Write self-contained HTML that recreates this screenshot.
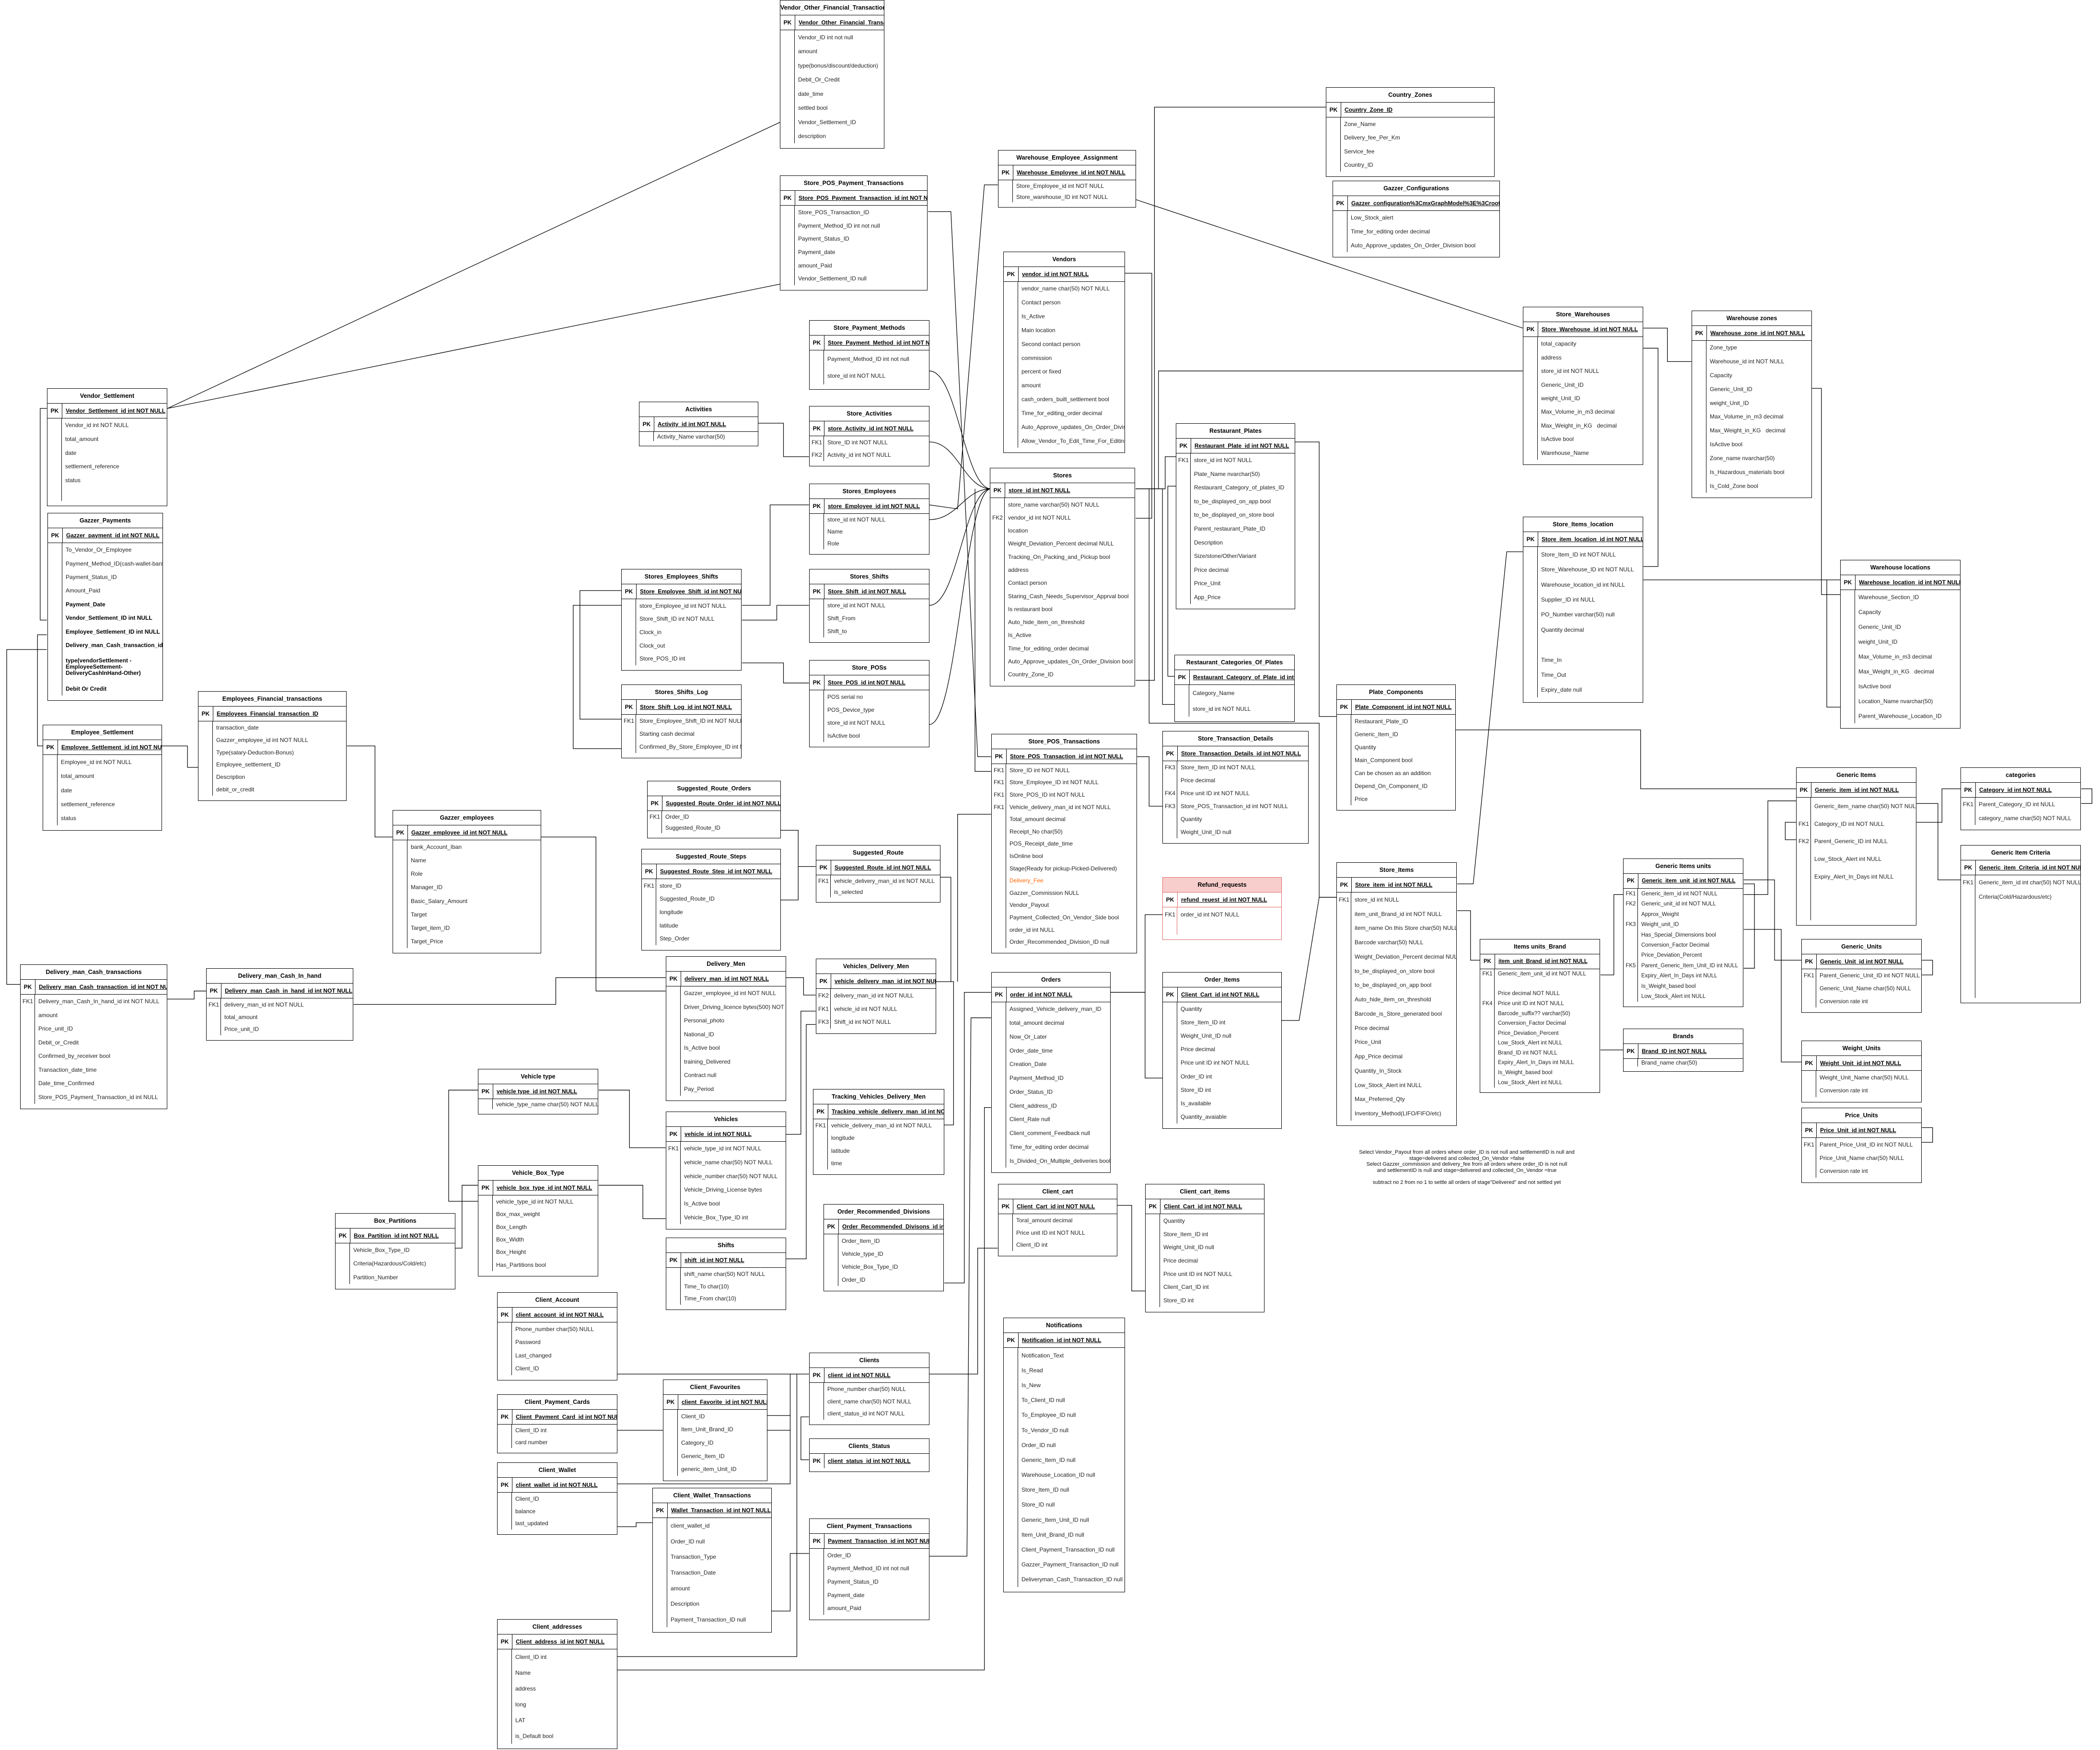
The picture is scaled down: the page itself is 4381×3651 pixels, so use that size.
<!DOCTYPE html>
<html><head><meta charset="utf-8"><style>
body{margin:0;width:4381px;height:3651px;background:#fff;position:relative;overflow:hidden;font-family:"Liberation Sans",sans-serif}
.t{position:absolute;border:1.5px solid #000;background:#fff;box-sizing:border-box;font-size:12px;display:flex;flex-direction:column;color:#222}
.h{height:30px;line-height:30px;text-align:center;font-weight:bold;border-bottom:1.5px solid #000;flex:none;white-space:nowrap;overflow:hidden;font-size:12.5px;color:#000}
.p{height:30px;line-height:30px;border-bottom:1.5px solid #000;flex:none;display:flex;white-space:nowrap;overflow:hidden;color:#000}
.p b{width:30px;text-align:center;border-right:1.5px solid #000;flex:none}
.p u{font-weight:bold;padding-left:7px}
.b{flex:1;display:flex;flex-direction:column;padding-bottom:10px;background:linear-gradient(#000,#000) 29px 0/1.2px calc(100% - 10px) no-repeat}
.r{flex:1;display:flex;align-items:center;white-space:nowrap;overflow:hidden;padding-left:37px;position:relative}
.r i{position:absolute;left:0;width:30px;text-align:center;font-style:normal}
.bo{font-weight:bold;color:#000}
.note{position:absolute;left:2790px;top:2398px;width:540px;text-align:center;font-size:11px;line-height:12.5px;color:#111}
svg{position:absolute;left:0;top:0}
</style></head><body>
<svg width="4381" height="3651"><g transform="scale(2.794)" fill="none" stroke="#000" stroke-width="0.45">
<path d="M125,305 L583,91"/><path d="M125,305 L583,212"/>
<path d="M35,305 L30,305 L30,463 L35,463"/>
<path d="M32,557 L28,557 L28,474 L35,474"/>
<path d="M15,735 L5,735 L5,485 L35,485"/>
<path d="M121,557 L140,557 L140,573 L148,573"/>
<path d="M259,557 L280,557 L280,625 L293,625"/>
<path d="M404,625 L445,625 L445,740 L497,740"/>
<path d="M264,750 L415,750 L415,730 L497,730"/>
<path d="M125,746 L145,746 L145,740 L154,740"/>
<path d="M447,814 L470,814 L470,857 L497,857"/>
<path d="M357,814 L335,814 L335,897 L357,897"/>
<path d="M447,885 L480,885 L480,910 L497,910"/>
<path d="M340,932 L345,932 L345,885 L357,885"/>
<path d="M587,847 L598,847 L598,755 L609,755"/>
<path d="M587,730 L600,730 L600,743 L609,743"/>
<path d="M587,940 L602,940 L602,765 L609,765"/>
<path d="M699,733 L712,733 L712,840 L705,840"/>
<path d="M583,620 L596,620 L596,647 L609,647"/><path d="M583,672 L596,672 L596,647"/>
<path d="M702,655 L710,655 L710,733"/>
<path d="M566,316 L585,316 L585,341 L604,341"/>
<path d="M554,452 L575,452 L575,377 L604,377"/>
<path d="M554,463 L580,463 L580,452 L604,452"/>
<path d="M464,537 L433,537 L433,441 L464,441"/>
<path d="M464,559 L428,559 L428,452 L464,452"/>
<path d="M554,495 L585,495 L585,510 L604,510"/>
<path d="M694,277 C715,277 720,365 740,365"/><path d="M694,330 C715,330 720,365 740,365"/>
<path d="M694,388 C715,388 720,365 740,365"/><path d="M694,452 C715,452 720,365 740,365"/>
<path d="M694,541 C715,541 720,365 740,365"/><path d="M740,576 L728,576 L728,365"/>
<path d="M693,158 L710,158 L730,565 L740,565"/>
<path d="M745,138 L735,138 L715,380 L694,377"/>
<path d="M840,204 L860,204 L860,387 L848,387"/>
<path d="M848,149 L1137,245"/>
<path d="M990,80 L862,80 L862,508 L848,508"/>
<path d="M848,365 L870,365 L870,341 L878,341"/>
<path d="M848,365 L865,365 L865,277 L1137,277"/>
<path d="M848,365 L868,365 L868,526 L877,526"/>
<path d="M878,363 L872,363 L872,505 L877,505"/>
<path d="M1227,245 L1245,245 L1245,270 L1263,270"/>
<path d="M1227,423 L1238,423 L1238,260 L1227,260"/>
<path d="M1227,433 L1374,433"/>
<path d="M1353,290 L1360,290 L1360,444 L1374,444"/>
<path d="M1374,528 L1364,528 L1364,433"/>
<path d="M1088,660 L1100,660 L1125,412 L1137,412"/>
<path d="M848,365 L858,365 L858,540 L985,540 L985,670 L998,670"/>
<path d="M1087,545 L1225,545 L1225,589 L1341,589"/>
<path d="M967,330 L985,330 L985,535 L998,535"/>
<path d="M1088,680 L1098,680 L1098,717 L1105,717"/>
<path d="M1195,728 L1205,728 L1205,668 L1212,668"/>
<path d="M1195,784 L1212,784"/>
<path d="M1302,668 L1320,668 L1320,598 L1341,598"/>
<path d="M1302,657 L1325,657 L1325,717 L1345,717"/>
<path d="M1302,694 L1330,694 L1330,793 L1345,793"/>
<path d="M1302,723 L1310,723 L1310,660 L1302,660"/>
<path d="M1341,614 L1333,614 L1333,627 L1341,627"/>
<path d="M1431,614 L1450,614 L1450,589 L1464,589"/>
<path d="M1554,589 L1562,589 L1562,600 L1554,600"/>
<path d="M1431,600 L1447,600 L1447,657 L1464,657"/>
<path d="M1435,717 L1443,717 L1443,728 L1435,728"/>
<path d="M1435,842 L1443,842 L1443,853 L1435,853"/>
<path d="M849,565 L858,565 L858,602 L868,602"/>
<path d="M740,608 L715,608 L715,733"/>
<path d="M829,741 L855,741 L855,683 L868,683"/>
<path d="M705,958 L720,958 L720,741 L740,741"/>
<path d="M829,741 L855,741 L855,805 L868,805"/>
<path d="M957,762 L970,762 L985,670 L998,670"/>
<path d="M834,900 L845,900 L845,964 L855,964"/>
<path d="M694,1026 L730,1026 L730,932 L745,932"/>
<path d="M461,1026 L604,1026"/>
<path d="M461,1068 L590,1068 L590,1026"/>
<path d="M461,1108 L590,1108 L590,1068"/>
<path d="M461,1237 L595,1237 L595,1026"/>
<path d="M573,1057 L590,1057"/>
<path d="M604,1090 L598,1090 L598,1058 L604,1058"/>
<path d="M694,1162 L722,1162 L725,760 L740,760"/>
<path d="M576,1203 L590,1203 L590,1160 L604,1160"/>
<path d="M461,1140 L475,1140 L475,1137 L487,1137"/>
<path d="M461,1247 L735,1247 L735,827 L740,827"/>
</g></svg>

<div class="t" style="left:1627px;top:0;width:218px;height:310px"><div class="h">Vendor_Other_Financial_Transactions</div><div class="p"><b>PK</b><u>Vendor_Other_Financial_Transaction</u></div><div class="b"><div class="r">Vendor_ID int not null</div><div class="r">amount</div><div class="r">type(bonus/discount/deduction)</div><div class="r">Debit_Or_Credit</div><div class="r">date_time</div><div class="r">settled bool</div><div class="r">Vendor_Settlement_ID</div><div class="r">description</div></div></div>

<div class="t" style="left:1627px;top:366px;width:308px;height:240px"><div class="h">Store_POS_Payment_Transactions</div><div class="p"><b>PK</b><u>Store_POS_Payment_Transaction_id int NOT NULL</u></div><div class="b"><div class="r">Store_POS_Transaction_ID</div><div class="r">Payment_Method_ID int not null</div><div class="r">Payment_Status_ID</div><div class="r">Payment_date</div><div class="r">amount_Paid</div><div class="r">Vendor_Settlement_ID null</div></div></div>

<div class="t" style="left:2082px;top:313px;width:288px;height:120px"><div class="h">Warehouse_Employee_Assignment</div><div class="p"><b>PK</b><u>Warehouse_Employee_id int NOT NULL</u></div><div class="b"><div class="r">Store_Employee_id int NOT NULL</div><div class="r">Store_warehouse_ID int NOT NULL</div></div></div>

<div class="t" style="left:2766px;top:182px;width:352px;height:187px"><div class="h">Country_Zones</div><div class="p"><b>PK</b><u>Country_Zone_ID</u></div><div class="b"><div class="r">Zone_Name</div><div class="r">Delivery_fee_Per_Km</div><div class="r">Service_fee</div><div class="r">Country_ID</div></div></div>

<div class="t" style="left:2780px;top:377px;width:349px;height:160px"><div class="h">Gazzer_Configurations</div><div class="p"><b>PK</b><u>Gazzer_configuration%3CmxGraphModel%3E%3Croot</u></div><div class="b"><div class="r">Low_Stock_alert</div><div class="r">Time_for_editing order decimal</div><div class="r">Auto_Approve_updates_On_Order_Division bool</div></div></div>

<div class="t" style="left:2093px;top:525px;width:254px;height:420px"><div class="h">Vendors</div><div class="p"><b>PK</b><u>vendor_id int NOT NULL</u></div><div class="b"><div class="r">vendor_name char(50) NOT NULL</div><div class="r">Contact person</div><div class="r">Is_Active</div><div class="r">Main location</div><div class="r">Second contact person</div><div class="r">commission</div><div class="r">percent or fixed</div><div class="r">amount</div><div class="r">cash_orders_built_settlement bool</div><div class="r">Time_for_editing_order decimal</div><div class="r">Auto_Approve_updates_On_Order_Division</div><div class="r">Allow_Vendor_To_Edit_Time_For_Editing</div></div></div>

<div class="t" style="left:1688px;top:668px;width:251px;height:145px"><div class="h">Store_Payment_Methods</div><div class="p"><b>PK</b><u>Store_Payment_Method_id int NOT NULL</u></div><div class="b"><div class="r">Payment_Method_ID int not null</div><div class="r">store_id int NOT NULL</div></div></div>

<div class="t" style="left:1333px;top:838px;width:249px;height:93px"><div class="h">Activities</div><div class="p"><b>PK</b><u>Activity_id int NOT NULL</u></div><div class="b"><div class="r">Activity_Name varchar(50)</div></div></div>

<div class="t" style="left:1688px;top:847px;width:251px;height:126px"><div class="h">Store_Activities</div><div class="p"><b>PK</b><u>store_Activity_id int NOT NULL</u></div><div class="b"><div class="r"><i>FK1</i>Store_ID int NOT NULL</div><div class="r"><i>FK2</i>Activity_id int NOT NULL</div></div></div>

<div class="t" style="left:2065px;top:976px;width:303px;height:456px"><div class="h">Stores</div><div class="p"><b>PK</b><u>store_id int NOT NULL</u></div><div class="b"><div class="r">store_name varchar(50) NOT NULL</div><div class="r"><i>FK2</i>vendor_id int NOT NULL</div><div class="r">location</div><div class="r">Weight_Deviation_Percent decimal NULL</div><div class="r">Tracking_On_Packing_and_Pickup bool</div><div class="r">address</div><div class="r">Contact person</div><div class="r">Staring_Cash_Needs_Supervisor_Apprval bool</div><div class="r">Is restaurant bool</div><div class="r">Auto_hide_item_on_threshold</div><div class="r">Is_Active</div><div class="r">Time_for_editing_order decimal</div><div class="r">Auto_Approve_updates_On_Order_Division bool</div><div class="r">Country_Zone_ID</div></div></div>

<div class="t" style="left:1688px;top:1009px;width:251px;height:148px"><div class="h">Stores_Employees</div><div class="p"><b>PK</b><u>store_Employee_id int NOT NULL</u></div><div class="b"><div class="r">store_id int NOT NULL</div><div class="r">Name</div><div class="r">Role</div></div></div>

<div class="t" style="left:2453px;top:883px;width:249px;height:388px"><div class="h">Restaurant_Plates</div><div class="p"><b>PK</b><u>Restaurant_Plate_id int NOT NULL</u></div><div class="b"><div class="r"><i>FK1</i>store_id int NOT NULL</div><div class="r">Plate_Name nvarchar(50)</div><div class="r">Restaurant_Category_of_plates_ID</div><div class="r">to_be_displayed_on_app bool</div><div class="r">to_be_displayed_on_store bool</div><div class="r">Parent_restaurant_Plate_ID</div><div class="r">Description</div><div class="r">Size/stone/Other/Variant</div><div class="r">Price decimal</div><div class="r">Price_Unit</div><div class="r">App_Price</div></div></div>

<div class="t" style="left:3177px;top:640px;width:251px;height:330px"><div class="h">Store_Warehouses</div><div class="p"><b>PK</b><u>Store_Warehouse_id int NOT NULL</u></div><div class="b"><div class="r">total_capacity</div><div class="r">address</div><div class="r">store_id int NOT NULL</div><div class="r">Generic_Unit_ID</div><div class="r">weight_Unit_ID</div><div class="r">Max_Volume_in_m3 decimal</div><div class="r">Max_Weight_in_KG &nbsp; decimal</div><div class="r">IsActive bool</div><div class="r">Warehouse_Name</div></div></div>

<div class="t" style="left:3529px;top:648px;width:251px;height:391px"><div class="h">Warehouse zones</div><div class="p"><b>PK</b><u>Warehouse_zone_id int NOT NULL</u></div><div class="b"><div class="r">Zone_type</div><div class="r">Warehouse_id int NOT NULL</div><div class="r">Capacity</div><div class="r">Generic_Unit_ID</div><div class="r">weight_Unit_ID</div><div class="r">Max_Volume_in_m3 decimal</div><div class="r">Max_Weight_in_KG &nbsp; decimal</div><div class="r">IsActive bool</div><div class="r">Zone_name nvarchar(50)</div><div class="r">Is_Hazardous_materials bool</div><div class="r">Is_Cold_Zone bool</div></div></div>

<div class="t" style="left:98px;top:810px;width:251px;height:246px"><div class="h">Vendor_Settlement</div><div class="p"><b>PK</b><u>Vendor_Settlement_id int NOT NULL</u></div><div class="b"><div class="r">Vendor_id int NOT NULL</div><div class="r">total_amount</div><div class="r">date</div><div class="r">settlement_reference</div><div class="r">status</div><div class="r"></div></div></div>

<div class="t" style="left:99px;top:1070px;width:241px;height:392px"><div class="h">Gazzer_Payments</div><div class="p"><b>PK</b><u>Gazzer_payment_id int NOT NULL</u></div><div class="b"><div class="r">To_Vendor_Or_Employee</div><div class="r">Payment_Method_ID(cash-wallet-bank)</div><div class="r">Payment_Status_ID</div><div class="r">Amount_Paid</div><div class="r bo">Payment_Date</div><div class="r bo">Vendor_Settlement_ID int NULL</div><div class="r bo">Employee_Settlement_ID int NULL</div><div class="r bo">Delivery_man_Cash_transaction_id</div><div class="r bo" style="flex:2.2;white-space:normal;line-height:13px">type(vendorSettlement - EmployeeSettement- DeliveryCashInHand-Other)</div><div class="r bo">Debit Or Credit</div></div></div>

<div class="t" style="left:89px;top:1512px;width:249px;height:221px"><div class="h">Employee_Settlement</div><div class="p"><b>PK</b><u>Employee_Settlement_id int NOT NULL</u></div><div class="b"><div class="r">Employee_id int NOT NULL</div><div class="r">total_amount</div><div class="r">date</div><div class="r">settlement_reference</div><div class="r">status</div></div></div>

<div class="t" style="left:413px;top:1442px;width:310px;height:229px"><div class="h">Employees_Financial_transactions</div><div class="p"><b>PK</b><u>Employees_Financial_transaction_ID</u></div><div class="b"><div class="r">transaction_date</div><div class="r">Gazzer_employee_id int NOT NULL</div><div class="r">Type(salary-Deduction-Bonus)</div><div class="r">Employee_settlement_ID</div><div class="r">Description</div><div class="r">debit_or_credit</div></div></div>

<div class="t" style="left:1296px;top:1187px;width:251px;height:212px"><div class="h">Stores_Employees_Shifts</div><div class="p"><b>PK</b><u>Store_Employee_Shift_id int NOT NULL</u></div><div class="b"><div class="r">store_Employee_id int NOT NULL</div><div class="r">Store_Shift_ID int NOT NULL</div><div class="r">Clock_in</div><div class="r">Clock_out</div><div class="r">Store_POS_ID int</div></div></div>

<div class="t" style="left:1688px;top:1187px;width:251px;height:154px"><div class="h">Stores_Shifts</div><div class="p"><b>PK</b><u>Store_Shift_id int NOT NULL</u></div><div class="b"><div class="r">store_id int NOT NULL</div><div class="r">Shift_From</div><div class="r">Shift_to</div></div></div>

<div class="t" style="left:1688px;top:1377px;width:251px;height:182px"><div class="h">Store_POSs</div><div class="p"><b>PK</b><u>Store_POS_id int NOT NULL</u></div><div class="b"><div class="r">POS serial no</div><div class="r">POS_Device_type</div><div class="r">store_id int NOT NULL</div><div class="r">IsActive bool</div></div></div>

<div class="t" style="left:1296px;top:1428px;width:251px;height:154px"><div class="h">Stores_Shifts_Log</div><div class="p"><b>PK</b><u>Store_Shift_Log_id int NOT NULL</u></div><div class="b"><div class="r"><i>FK1</i>Store_Employee_Shift_ID int NOT NULL</div><div class="r">Starting cash decimal</div><div class="r">Confirmed_By_Store_Employee_ID int NOT</div></div></div>

<div class="t" style="left:2450px;top:1366px;width:251px;height:140px"><div class="h">Restaurant_Categories_Of_Plates</div><div class="p"><b>PK</b><u>Restaurant_Category_of_Plate_id int NOT NULL</u></div><div class="b"><div class="r">Category_Name</div><div class="r">store_id int NOT NULL</div></div></div>

<div class="t" style="left:3177px;top:1078px;width:251px;height:388px"><div class="h">Store_Items_location</div><div class="p"><b>PK</b><u>Store_item_location_id int NOT NULL</u></div><div class="b"><div class="r">Store_Item_ID int NOT NULL</div><div class="r">Store_Warehouse_ID int NOT NULL</div><div class="r">Warehouse_location_id int NULL</div><div class="r">Supplier_ID int NULL</div><div class="r">PO_Number varchar(50) null</div><div class="r">Quantity decimal</div><div class="r"></div><div class="r">Time_In</div><div class="r">Time_Out</div><div class="r">Expiry_date null</div></div></div>

<div class="t" style="left:3839px;top:1168px;width:251px;height:352px"><div class="h">Warehouse locations</div><div class="p"><b>PK</b><u>Warehouse_location_id int NOT NULL</u></div><div class="b"><div class="r">Warehouse_Section_ID</div><div class="r">Capacity</div><div class="r">Generic_Unit_ID</div><div class="r">weight_Unit_ID</div><div class="r">Max_Volume_in_m3 decimal</div><div class="r">Max_Weight_in_KG &nbsp; decimal</div><div class="r">IsActive bool</div><div class="r">Location_Name nvarchar(50)</div><div class="r">Parent_Warehouse_Location_ID</div></div></div>

<div class="t" style="left:2788px;top:1428px;width:249px;height:263px"><div class="h">Plate_Components</div><div class="p"><b>PK</b><u>Plate_Component_id int NOT NULL</u></div><div class="b"><div class="r">Restaurant_Plate_ID</div><div class="r">Generic_Item_ID</div><div class="r">Quantity</div><div class="r">Main_Component bool</div><div class="r">Can be chosen as an addition</div><div class="r">Depend_On_Component_ID</div><div class="r">Price</div></div></div>

<div class="t" style="left:2068px;top:1531px;width:304px;height:458px"><div class="h">Store_POS_Transactions</div><div class="p"><b>PK</b><u>Store_POS_Transaction_id int NOT NULL</u></div><div class="b"><div class="r"><i>FK1</i>Store_ID int NOT NULL</div><div class="r"><i>FK1</i>Store_Employee_ID int NOT NULL</div><div class="r"><i>FK1</i>Store_POS_ID int NOT NULL</div><div class="r"><i>FK1</i>Vehicle_delivery_man_id int NOT NULL</div><div class="r">Total_amount decimal</div><div class="r">Receipt_No char(50)</div><div class="r">POS_Receipt_date_time</div><div class="r">IsOnline bool</div><div class="r">Stage(Ready for pickup-Picked-Delivered)</div><div class="r" style="color:#f60">Delivery_Fee</div><div class="r">Gazzer_Commission NULL</div><div class="r">Vendor_Payout</div><div class="r">Payment_Collected_On_Vendor_Side bool</div><div class="r">order_id int NULL</div><div class="r">Order_Recommended_Division_ID null</div></div></div>

<div class="t" style="left:2425px;top:1525px;width:305px;height:235px"><div class="h">Store_Transaction_Details</div><div class="p"><b>PK</b><u>Store_Transaction_Details_id int NOT NULL</u></div><div class="b"><div class="r"><i>FK3</i>Store_Item_ID int NOT NULL</div><div class="r">Price decimal</div><div class="r"><i>FK4</i>Price unit ID int NOT NULL</div><div class="r"><i>FK3</i>Store_POS_Transaction_id int NOT NULL</div><div class="r">Quantity</div><div class="r">Weight_Unit_ID null</div></div></div>

<div class="t" style="left:3747px;top:1601px;width:251px;height:330px"><div class="h">Generic Items</div><div class="p"><b>PK</b><u>Generic_item_id int NOT NULL</u></div><div class="b"><div class="r">Generic_item_name char(50) NOT NULL</div><div class="r"><i>FK1</i>Category_ID int NOT NULL</div><div class="r"><i>FK2</i>Parent_Generic_ID int NULL</div><div class="r">Low_Stock_Alert int NULL</div><div class="r">Expiry_Alert_In_Days int NULL</div><div class="r"></div><div class="r"></div></div></div>

<div class="t" style="left:4090px;top:1601px;width:251px;height:131px"><div class="h">categories</div><div class="p"><b>PK</b><u>Category_id int NOT NULL</u></div><div class="b"><div class="r"><i>FK1</i>Parent_Category_ID int NULL</div><div class="r">category_name char(50) NOT NULL</div></div></div>

<div class="t" style="left:4090px;top:1763px;width:251px;height:330px"><div class="h">Generic Item Criteria</div><div class="p"><b>PK</b><u>Generic_item_Criteria_id int NOT NULL</u></div><div class="b" style="justify-content:flex-start"><div class="r" style="flex:none;height:30px"><i>FK1</i>Generic_item_id int char(50) NOT NULL</div><div class="r" style="flex:none;height:30px">Criteria(Cold/Hazardous/etc)</div></div></div>

<div class="t" style="left:2425px;top:1830px;width:249px;height:131px;border-color:#e06666"><div class="h" style="background:#f8cecc;border-color:#e06666">Refund_requests</div><div class="p" style="border-color:#e06666"><b style="border-color:#e06666">PK</b><u>refund_reuest_id int NOT NULL</u></div><div class="b" style="justify-content:flex-start;background:linear-gradient(#e06666,#e06666) 29px 0/1.2px calc(100% - 10px) no-repeat"><div class="r" style="flex:none;height:30px"><i>FK1</i>order_id int NOT NULL</div></div></div>

<div class="t" style="left:2788px;top:1799px;width:251px;height:550px"><div class="h">Store_Items</div><div class="p"><b>PK</b><u>Store_item_id int NOT NULL</u></div><div class="b"><div class="r"><i>FK1</i>store_id int NULL</div><div class="r">item_unit_Brand_id int NOT NULL</div><div class="r">item_name On this Store char(50) NULL</div><div class="r">Barcode varchar(50) NULL</div><div class="r">Weight_Deviation_Percent decimal NULL</div><div class="r">to_be_displayed_on_store bool</div><div class="r">to_be_displayed_on_app bool</div><div class="r">Auto_hide_item_on_threshold</div><div class="r">Barcode_is_Store_generated bool</div><div class="r">Price decimal</div><div class="r">Price_Unit</div><div class="r">App_Price decimal</div><div class="r">Quantity_In_Stock</div><div class="r">Low_Stock_Alert int NULL</div><div class="r">Max_Preferred_Qty</div><div class="r">Inventory_Method(LIFO/FIFO/etc)</div></div></div>

<div class="t" style="left:3386px;top:1791px;width:251px;height:310px;font-size:11.5px"><div class="h">Generic Items units</div><div class="p"><b>PK</b><u>Generic_item_unit_id int NOT NULL</u></div><div class="b"><div class="r"><i>FK1</i>Generic_item_id int NOT NULL</div><div class="r"><i>FK2</i>Generic_unit_id int NOT NULL</div><div class="r">Approx_Weight</div><div class="r"><i>FK3</i>Weight_unit_ID</div><div class="r">Has_Special_Dimensions bool</div><div class="r">Conversion_Factor Decimal</div><div class="r">Price_Deviation_Percent</div><div class="r"><i>FK5</i>Parent_Generic_Item_Unit_ID int NULL</div><div class="r">Expiry_Alert_In_Days int NULL</div><div class="r">Is_Weight_based bool</div><div class="r">Low_Stock_Alert int NULL</div></div></div>

<div class="t" style="left:3087px;top:1959px;width:251px;height:321px;font-size:11.5px"><div class="h">Items units_Brand</div><div class="p"><b>PK</b><u>item_unit_Brand_id int NOT NULL</u></div><div class="b"><div class="r"><i>FK1</i>Generic_item_unit_id int NOT NULL</div><div class="r"></div><div class="r">Price decimal NOT NULL</div><div class="r"><i>FK4</i>Price unit ID int NOT NULL</div><div class="r">Barcode_suffix?? varchar(50)</div><div class="r">Conversion_Factor Decimal</div><div class="r">Price_Deviation_Percent</div><div class="r">Low_Stock_Alert int NULL</div><div class="r">Brand_ID int NOT NULL</div><div class="r">Expiry_Alert_In_Days int NULL</div><div class="r">Is_Weight_based bool</div><div class="r">Low_Stock_Alert int NULL</div></div></div>

<div class="t" style="left:3758px;top:1959px;width:251px;height:154px"><div class="h">Generic_Units</div><div class="p"><b>PK</b><u>Generic_Unit_id int NOT NULL</u></div><div class="b"><div class="r"><i>FK1</i>Parent_Generic_Unit_ID int NOT NULL</div><div class="r">Generic_Unit_Name char(50) NULL</div><div class="r">Conversion rate int</div></div></div>

<div class="t" style="left:3386px;top:2146px;width:251px;height:90px"><div class="h">Brands</div><div class="p"><b>PK</b><u>Brand_ID int NOT NULL</u></div><div class="b"><div class="r">Brand_name char(50)</div></div></div>

<div class="t" style="left:3758px;top:2171px;width:251px;height:129px"><div class="h">Weight_Units</div><div class="p"><b>PK</b><u>Weight_Unit_id int NOT NULL</u></div><div class="b"><div class="r">Weight_Unit_Name char(50) NULL</div><div class="r">Conversion rate int</div></div></div>

<div class="t" style="left:3758px;top:2311px;width:251px;height:157px"><div class="h">Price_Units</div><div class="p"><b>PK</b><u>Price_Unit_id int NOT NULL</u></div><div class="b"><div class="r"><i>FK1</i>Parent_Price_Unit_ID int NOT NULL</div><div class="r">Price_Unit_Name char(50) NULL</div><div class="r">Conversion rate int</div></div></div>

<div class="note">Select Vendor_Payout from all orders where order_ID is not null and settlementID is null and<br>stage=delivered and collected_On_Vendor =false<br>Select Gazzer_commission and delivery_fee from all orders where order_ID is not null<br>and settlementID is null and stage=delivered and collected_On_Vendor =true<br><br>subtract no 2 from no 1 to settle all orders of stage"Delivered" and not settled yet</div>

<div class="t" style="left:2068px;top:2028px;width:249px;height:419px"><div class="h">Orders</div><div class="p"><b>PK</b><u>order_id int NOT NULL</u></div><div class="b"><div class="r">Assigned_Vehicle_delivery_man_ID</div><div class="r">total_amount decimal</div><div class="r">Now_Or_Later</div><div class="r">Order_date_time</div><div class="r">Creation_Date</div><div class="r">Payment_Method_ID</div><div class="r">Order_Status_ID</div><div class="r">Client_address_ID</div><div class="r">Client_Rate null</div><div class="r">Client_comment_Feedback null</div><div class="r">Time_for_editing order decimal</div><div class="r">Is_Divided_On_Multiple_deliveries bool</div></div></div>

<div class="t" style="left:2425px;top:2028px;width:249px;height:327px"><div class="h">Order_Items</div><div class="p"><b>PK</b><u>Client_Cart_id int NOT NULL</u></div><div class="b"><div class="r">Quantity</div><div class="r">Store_Item_ID int</div><div class="r">Weight_Unit_ID null</div><div class="r">Price decimal</div><div class="r">Price unit ID int NOT NULL</div><div class="r">Order_ID int</div><div class="r">Store_ID int</div><div class="r">Is_available</div><div class="r">Quantity_avaiable</div></div></div>

<div class="t" style="left:2082px;top:2470px;width:249px;height:151px"><div class="h">Client_cart</div><div class="p"><b>PK</b><u>Client_Cart_id int NOT NULL</u></div><div class="b"><div class="r">Toral_amount decimal</div><div class="r">Price unit ID int NOT NULL</div><div class="r">Client_ID int</div></div></div>

<div class="t" style="left:2389px;top:2470px;width:249px;height:268px"><div class="h">Client_cart_items</div><div class="p"><b>PK</b><u>Client_Cart_id int NOT NULL</u></div><div class="b"><div class="r">Quantity</div><div class="r">Store_Item_ID int</div><div class="r">Weight_Unit_ID null</div><div class="r">Price decimal</div><div class="r">Price unit ID int NOT NULL</div><div class="r">Client_Cart_ID int</div><div class="r">Store_ID int</div></div></div>

<div class="t" style="left:2093px;top:2749px;width:254px;height:573px"><div class="h">Notifications</div><div class="p"><b>PK</b><u>Notification_id int NOT NULL</u></div><div class="b"><div class="r">Notification_Text</div><div class="r">Is_Read</div><div class="r">Is_New</div><div class="r">To_Client_ID null</div><div class="r">To_Employee_ID null</div><div class="r">To_Vendor_ID null</div><div class="r">Order_ID null</div><div class="r">Generic_Item_ID null</div><div class="r">Warehouse_Location_ID null</div><div class="r">Store_Item_ID null</div><div class="r">Store_ID null</div><div class="r">Generic_Item_Unit_ID null</div><div class="r">Item_Unit_Brand_ID null</div><div class="r">Client_Payment_Transaction_ID null</div><div class="r">Gazzer_Payment_Transaction_ID null</div><div class="r">Deliveryman_Cash_Transaction_ID null</div></div></div>

<div class="t" style="left:1688px;top:2822px;width:251px;height:151px"><div class="h">Clients</div><div class="p"><b>PK</b><u>client_id int NOT NULL</u></div><div class="b"><div class="r">Phone_number char(50) NULL</div><div class="r">client_name char(50) NOT NULL</div><div class="r">client_status_id int NOT NULL</div></div></div>

<div class="t" style="left:1688px;top:3001px;width:251px;height:70px"><div class="h">Clients_Status</div><div class="p" style="border-bottom:none"><b>PK</b><u>client_status_id int NOT NULL</u></div></div>

<div class="t" style="left:1688px;top:3168px;width:251px;height:212px"><div class="h">Client_Payment_Transactions</div><div class="p"><b>PK</b><u>Payment_Transaction_id int NOT NULL</u></div><div class="b"><div class="r">Order_ID</div><div class="r">Payment_Method_ID int not null</div><div class="r">Payment_Status_ID</div><div class="r">Payment_date</div><div class="r">amount_Paid</div></div></div>

<div class="t" style="left:1383px;top:2878px;width:218px;height:212px"><div class="h">Client_Favourites</div><div class="p"><b>PK</b><u>client_Favorite_id int NOT NULL</u></div><div class="b"><div class="r">Client_ID</div><div class="r">Item_Unit_Brand_ID</div><div class="r">Category_ID</div><div class="r">Generic_Item_ID</div><div class="r">generic_item_Unit_ID</div></div></div>

<div class="t" style="left:1361px;top:3104px;width:249px;height:302px"><div class="h">Client_Wallet_Transactions</div><div class="p"><b>PK</b><u>Wallet_Transaction_id int NOT NULL</u></div><div class="b"><div class="r">client_wallet_id</div><div class="r">Order_ID null</div><div class="r">Transaction_Type</div><div class="r">Transaction_Date</div><div class="r">amount</div><div class="r">Description</div><div class="r">Payment_Transaction_ID null</div></div></div>

<div class="t" style="left:1037px;top:2696px;width:251px;height:184px"><div class="h">Client_Account</div><div class="p"><b>PK</b><u>client_account_id int NOT NULL</u></div><div class="b"><div class="r">Phone_number char(50) NULL</div><div class="r">Password</div><div class="r">Last_changed</div><div class="r">Client_ID</div></div></div>

<div class="t" style="left:1037px;top:2909px;width:251px;height:123px"><div class="h">Client_Payment_Cards</div><div class="p"><b>PK</b><u>Client_Payment_Card_id int NOT NULL</u></div><div class="b"><div class="r">Client_ID int</div><div class="r">card number</div></div></div>

<div class="t" style="left:1037px;top:3051px;width:251px;height:151px"><div class="h">Client_Wallet</div><div class="p"><b>PK</b><u>client_wallet_id int NOT NULL</u></div><div class="b"><div class="r">Client_ID</div><div class="r">balance</div><div class="r">last_updated</div></div></div>

<div class="t" style="left:1037px;top:3378px;width:251px;height:271px"><div class="h">Client_addresses</div><div class="p"><b>PK</b><u>Client_address_id int NOT NULL</u></div><div class="b"><div class="r">Client_ID int</div><div class="r">Name</div><div class="r">address</div><div class="r">long</div><div class="r">LAT</div><div class="r">is_Default bool</div></div></div>

<div class="t" style="left:819px;top:1690px;width:310px;height:299px"><div class="h">Gazzer_employees</div><div class="p"><b>PK</b><u>Gazzer_employee_id int NOT NULL</u></div><div class="b"><div class="r">bank_Account_Iban</div><div class="r">Name</div><div class="r">Role</div><div class="r">Manager_ID</div><div class="r">Basic_Salary_Amount</div><div class="r">Target</div><div class="r">Target_item_ID</div><div class="r">Target_Price</div></div></div>

<div class="t" style="left:1350px;top:1629px;width:279px;height:120px"><div class="h">Suggested_Route_Orders</div><div class="p"><b>PK</b><u>Suggested_Route_Order_id int NOT NULL</u></div><div class="b"><div class="r"><i>FK1</i>Order_ID</div><div class="r">Suggested_Route_ID</div></div></div>

<div class="t" style="left:1338px;top:1771px;width:291px;height:212px"><div class="h">Suggested_Route_Steps</div><div class="p"><b>PK</b><u>Suggested_Route_Step_id int NOT NULL</u></div><div class="b"><div class="r"><i>FK1</i>store_ID</div><div class="r">Suggested_Route_ID</div><div class="r">longitude</div><div class="r">latitude</div><div class="r">Step_Order</div></div></div>

<div class="t" style="left:1702px;top:1763px;width:260px;height:120px"><div class="h">Suggested_Route</div><div class="p"><b>PK</b><u>Suggested_Route_id int NOT NULL</u></div><div class="b"><div class="r"><i>FK1</i>vehicle_delivery_man_id int NOT NULL</div><div class="r">is_selected</div></div></div>

<div class="t" style="left:1389px;top:1995px;width:251px;height:302px"><div class="h">Delivery_Men</div><div class="p"><b>PK</b><u>delivery_man_id int NOT NULL</u></div><div class="b"><div class="r">Gazzer_employee_id int NOT NULL</div><div class="r">Driver_Driving_licence bytes(500) NOT</div><div class="r">Personal_photo</div><div class="r">National_ID</div><div class="r">Is_Active bool</div><div class="r">training_Delivered</div><div class="r">Contract null</div><div class="r">Pay_Period</div></div></div>

<div class="t" style="left:1702px;top:2000px;width:251px;height:157px"><div class="h">Vehicles_Delivery_Men</div><div class="p"><b>PK</b><u>vehicle_delivery_man_id int NOT NULL</u></div><div class="b"><div class="r"><i>FK2</i>delivery_man_id int NOT NULL</div><div class="r"><i>FK1</i>vehicle_id int NOT NULL</div><div class="r"><i>FK3</i>Shift_id int NOT NULL</div></div></div>

<div class="t" style="left:42px;top:2012px;width:307px;height:302px"><div class="h">Delivery_man_Cash_transactions</div><div class="p"><b>PK</b><u>Delivery_man_Cash_transaction_id int NOT NULL</u></div><div class="b"><div class="r"><i>FK1</i>Delivery_man_Cash_In_hand_id int NOT NULL</div><div class="r">amount</div><div class="r">Price_unit_ID</div><div class="r">Debit_or_Credit</div><div class="r">Confirmed_by_receiver bool</div><div class="r">Transaction_date_time</div><div class="r">Date_time_Confirmed</div><div class="r">Store_POS_Payment_Transaction_id int NULL</div></div></div>

<div class="t" style="left:430px;top:2020px;width:307px;height:151px"><div class="h">Delivery_man_Cash_In_hand</div><div class="p"><b>PK</b><u>Delivery_man_Cash_in_hand_id int NOT NULL</u></div><div class="b"><div class="r"><i>FK1</i>delivery_man_id int NOT NULL</div><div class="r">total_amount</div><div class="r">Price_unit_ID</div></div></div>

<div class="t" style="left:997px;top:2230px;width:251px;height:95px"><div class="h">Vehicle type</div><div class="p"><b>PK</b><u>vehicle type_id int NOT NULL</u></div><div class="b"><div class="r">vehicle_type_name char(50) NOT NULL</div></div></div>

<div class="t" style="left:1389px;top:2319px;width:251px;height:246px"><div class="h">Vehicles</div><div class="p"><b>PK</b><u>vehicle_id int NOT NULL</u></div><div class="b"><div class="r"><i>FK1</i>vehicle_type_id int NOT NULL</div><div class="r">vehicle_name char(50) NOT NULL</div><div class="r">vehicle_number char(50) NOT NULL</div><div class="r">Vehicle_Driving_License bytes</div><div class="r">Is_Active bool</div><div class="r">Vehicle_Box_Type_ID int</div></div></div>

<div class="t" style="left:1696px;top:2272px;width:274px;height:179px"><div class="h">Tracking_Vehicles_Delivery_Men</div><div class="p"><b>PK</b><u>Tracking_vehicle_delivery_man_id int NOT NULL</u></div><div class="b"><div class="r"><i>FK1</i>vehicle_delivery_man_id int NOT NULL</div><div class="r">longitude</div><div class="r">latitude</div><div class="r">time</div></div></div>

<div class="t" style="left:997px;top:2431px;width:251px;height:232px"><div class="h">Vehicle_Box_Type</div><div class="p"><b>PK</b><u>vehicle_box_type_id int NOT NULL</u></div><div class="b"><div class="r">vehicle_type_id int NOT NULL</div><div class="r">Box_max_weight</div><div class="r">Box_Length</div><div class="r">Box_Width</div><div class="r">Box_Height</div><div class="r">Has_Partitions bool</div></div></div>

<div class="t" style="left:699px;top:2531px;width:251px;height:159px"><div class="h">Box_Partitions</div><div class="p"><b>PK</b><u>Box_Partition_id int NOT NULL</u></div><div class="b"><div class="r">Vehicle_Box_Type_ID</div><div class="r">Criteria(Hazardous/Cold/etc)</div><div class="r">Partition_Number</div></div></div>

<div class="t" style="left:1718px;top:2512px;width:251px;height:182px"><div class="h">Order_Recommended_Divisions</div><div class="p"><b>PK</b><u>Order_Recommended_Divisons_id int NOT NULL</u></div><div class="b"><div class="r">Order_Item_ID</div><div class="r">Vehicle_type_ID</div><div class="r">Vehicle_Box_Type_ID</div><div class="r">Order_ID</div></div></div>

<div class="t" style="left:1389px;top:2582px;width:251px;height:151px"><div class="h">Shifts</div><div class="p"><b>PK</b><u>shift_id int NOT NULL</u></div><div class="b"><div class="r">shift_name char(50) NOT NULL</div><div class="r">Time_To char(10)</div><div class="r">Time_From char(10)</div></div></div>

</body></html>
